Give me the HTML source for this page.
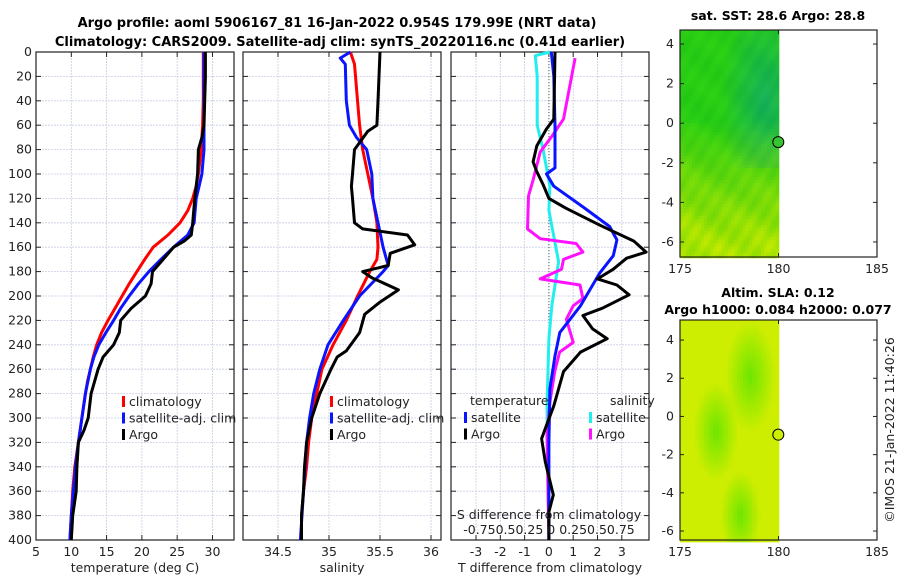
<!DOCTYPE html>
<html><head><meta charset="utf-8">
<style>
body{margin:0;background:#fff;}
svg text{font-family:"DejaVu Sans","Liberation Sans",sans-serif;fill:#222;}
.tk{font-size:12.5px;}
.tt{font-size:12.5px;font-weight:bold;fill:#000;}
.tm{font-size:13px;font-weight:bold;fill:#000;}
</style></head>
<body>
<svg id="c" width="900" height="580" viewBox="0 0 900 580" xmlns="http://www.w3.org/2000/svg">
<text class="tm" x="337" y="27" text-anchor="middle">Argo profile: aoml 5906167_81 16-Jan-2022 0.954S 179.99E (NRT data)</text>
<text class="tm" x="340" y="46" text-anchor="middle">Climatology: CARS2009. Satellite-adj clim: synTS_20220116.nc (0.41d earlier)</text>
<g id="g"></g>
</svg>
<script>
// ---- data ----
const depthTicks=[0,20,40,60,80,100,120,140,160,180,200,220,240,260,280,300,320,340,360,380,400];
const tTicks=[5,10,15,20,25,30];
const sTicks=[34.5,35,35.5,36];
const dTTicks=[-3,-2,-1,0,1,2,3];
const lonTicks=[175,180,185];
const latTicks=[4,2,0,-2,-4,-6];

const tClimDepth=[0,20,40,60,80,100,110,120,130,140,150,160,170,180,190,200,210,220,230,240,250,260,270,280,300,320,340,360,380,400];
const tClimVal=[28.7,28.7,28.7,28.6,28.4,28.0,27.7,27.2,26.5,25.4,23.7,21.6,20.4,19.3,18.2,17.2,16.2,15.2,14.3,13.6,13.1,12.7,12.3,12.0,11.5,11.0,10.5,10.2,10.0,9.8];
const tSatDepth=[0,20,40,60,80,100,110,120,140,150,160,170,180,190,200,210,220,230,240,250,260,280,300,320,340,360,380,400];
const tSatVal=[28.8,28.8,28.8,28.8,28.8,28.5,28.1,27.7,27.4,26.5,24.5,22.7,21.0,19.5,18.2,17.0,16.0,14.9,13.9,13.2,12.7,12.0,11.5,11.0,10.6,10.3,10.0,9.8];
const tArgoDepth=[0,20,40,60,70,80,100,120,140,150,155,160,170,180,190,200,210,220,230,240,250,260,280,300,310,320,340,360,380,400];
const tArgoVal=[29.0,29.0,28.9,28.8,28.5,28.0,27.9,27.5,27.2,27.0,26.0,24.5,23.0,21.5,21.3,20.5,18.5,17.0,16.8,16.0,14.5,13.8,12.8,12.4,11.8,11.0,10.8,10.7,10.2,10.0];

const sClimDepth=[0,10,20,60,80,100,120,140,160,170,180,200,220,240,260,280,300,320,340,360,380,400];
const sClimVal=[35.21,35.25,35.26,35.30,35.33,35.38,35.43,35.47,35.48,35.47,35.40,35.28,35.17,35.04,34.93,34.88,34.83,34.80,34.78,34.75,34.73,34.73];
const sSatDepth=[0,5,10,40,60,70,80,100,120,140,160,175,180,200,220,240,260,280,300,320,360,400];
const sSatVal=[35.21,35.11,35.16,35.17,35.20,35.27,35.37,35.42,35.43,35.48,35.53,35.58,35.53,35.30,35.14,34.99,34.91,34.85,34.81,34.78,34.75,34.72];
const sArgoDepth=[0,40,60,65,80,100,110,120,140,145,150,158,165,175,180,185,195,205,215,230,245,250,260,280,300,320,340,360,380,400];
const sArgoVal=[35.50,35.48,35.47,35.38,35.25,35.23,35.22,35.23,35.25,35.33,35.77,35.84,35.60,35.58,35.33,35.42,35.68,35.50,35.35,35.30,35.17,35.08,35.02,34.91,34.83,34.78,34.76,34.75,34.73,34.73];

const dTSatDepth=[0,20,60,80,95,100,110,127,143,154,167,181,208,230,249,276,320,400];
const dTSatVal=[0.1,0.2,0.25,0.25,0.25,-0.1,0.2,1.4,2.5,2.8,2.65,2.1,1.3,0.45,0.25,0.04,0.0,0.0];
const dTArgoDepth=[0,55,63,77,90,98,109,120,128,142,155,164,169,178,186,191,199,210,216,227,235,246,262,290,306,317,336,363,377,400];
const dTArgoVal=[0.25,0.2,-0.1,-0.5,-0.65,-0.5,-0.23,0.0,0.7,2.1,3.5,4.0,3.2,2.65,2.0,2.8,3.3,2.2,1.4,1.8,2.4,1.3,0.6,0.2,-0.1,-0.3,-0.15,0.18,0.0,0.0];
const dSSatDepth=[0,3,20,60,80,110,130,155,172,208,235,290,400];
const dSSatVal=[0.01,-0.14,-0.12,-0.12,-0.06,0.01,0.0,0.06,0.1,0.03,0.0,-0.02,0.0];
const dSArgoDepth=[5,55,68,82,104,118,145,153,157,164,170,178,186,191,202,208,219,238,246,262,287,314,400];
const dSArgoVal=[0.27,0.15,0.04,-0.09,-0.16,-0.21,-0.22,-0.09,0.28,0.35,0.15,0.13,-0.09,0.32,0.35,0.25,0.18,0.25,0.11,0.06,0.01,-0.02,0.0];

// ---- drawing ----
const NS="http://www.w3.org/2000/svg";
const G=document.getElementById('g');
function el(tag,attrs,parent){const e=document.createElementNS(NS,tag);for(const k in attrs)e.setAttribute(k,attrs[k]);(parent||G).appendChild(e);return e;}
function txt(x,y,s,cls,anchor,parent){const t=el('text',{x:x,y:y,class:cls||'tk','text-anchor':anchor||'middle'},parent);t.textContent=s;return t;}

const Y0=52,Y1=540;
const yD=d=>Y0+(d/400)*(Y1-Y0);
function mkX(x0,x1,v0,v1){return v=>x0+(v-v0)/(v1-v0)*(x1-x0);}

const panels=[
 {name:'temperature-panel',x0:36,x1:234,v0:5,v1:33.05,ticks:tTicks,xlabel:'temperature (deg C)'},
 {name:'salinity-panel',x0:243,x1:441,v0:34.157,v1:36.098,ticks:sTicks,xlabel:'salinity'},
 {name:'difference-panel',x0:451,x1:649,v0:-4.03,v1:4.12,ticks:dTTicks,xlabel:'T difference from climatology'}
];
panels.forEach((p,i)=>{
  const g=el('g',{});
  
  
  p.g=g;p.X=mkX(p.x0,p.x1,p.v0,p.v1);
  depthTicks.forEach(d=>{if(d>0&&d<400)el('line',{x1:p.x0,x2:p.x1,y1:yD(d),y2:yD(d),stroke:'#c8cde6','stroke-width':0.8,'stroke-dasharray':'2,1'},g);});
  p.ticks.forEach(v=>{const x=p.X(v);el('line',{x1:x,x2:x,y1:Y0,y2:Y1,stroke:'#c8cde6','stroke-width':0.8,'stroke-dasharray':'2,1'},g);
    el('line',{x1:x,x2:x,y1:Y1,y2:Y1-5,stroke:'#222'},g);el('line',{x1:x,x2:x,y1:Y0,y2:Y0+5,stroke:'#222'},g);
    txt(x,Y1+16,String(v),'tk','middle',g);});
  depthTicks.forEach(d=>{el('line',{x1:p.x0,x2:p.x0+5,y1:yD(d),y2:yD(d),stroke:'#222'},g);el('line',{x1:p.x1,x2:p.x1-5,y1:yD(d),y2:yD(d),stroke:'#222'},g);
    if(i===0)txt(p.x0-4,yD(d)+4,String(d),'tk','end',g);});
  el('rect',{x:p.x0,y:Y0,width:p.x1-p.x0,height:Y1-Y0,fill:'none',stroke:'#222','stroke-width':1.2},g);
  const xl=txt((p.x0+p.x1)/2,Y1+32,p.xlabel,'tk','middle',g);
  
  
});
function line(p,depths,vals,color,name,scale){
  const pts=depths.map((d,k)=>p.X(vals[k]*(scale||1)).toFixed(1)+','+yD(d).toFixed(1)).join(' ');
  const l=el('polyline',{points:pts,fill:'none',stroke:color,'stroke-width':3,'stroke-linejoin':'round'},p.g);
  
  
}
const [P1,P2,P3]=panels;
el('line',{x1:P3.X(0),x2:P3.X(0),y1:Y0,y2:Y1,stroke:'#555','stroke-width':1,'stroke-dasharray':'1,2'},P3.g);
line(P1,tClimDepth,tClimVal,'#ff0000','temp-climatology-line');
line(P1,tSatDepth,tSatVal,'#0a14ff','temp-satellite-line');
line(P1,tArgoDepth,tArgoVal,'#000','temp-argo-line');
line(P2,sClimDepth,sClimVal,'#ff0000','sal-climatology-line');
line(P2,sSatDepth,sSatVal,'#0a14ff','sal-satellite-line');
line(P2,sArgoDepth,sArgoVal,'#000','sal-argo-line');
line(P3,dSSatDepth,dSSatVal,'#22eeee','sdiff-satellite-line',4);
line(P3,dSArgoDepth,dSArgoVal,'#ff11ff','sdiff-argo-line',4);
line(P3,dTSatDepth,dTSatVal,'#0a14ff','tdiff-satellite-line');
line(P3,dTArgoDepth,dTArgoVal,'#000','tdiff-argo-line');
const st1=txt(549,519,'S difference from climatology','tk','middle',P3.g);

txt(549,534,'-0.750.50.25 0  0.250.50.75','tk','middle',P3.g);

function legend(x,y,items,name){
  const g=el('g',{});
  
  
  items.forEach((it,k)=>{const yy=y+k*16.5;
    el('rect',{x:x,y:yy-9,width:3,height:11,fill:it[1]},g);
    txt(x+7,yy+1,it[0],'tk','start',g);});
}
legend(122,405,[['climatology','#ff0000'],['satellite-adj. clim','#0a14ff'],['Argo','#000']],'temperature-legend');
legend(330,405,[['climatology','#ff0000'],['satellite-adj. clim','#0a14ff'],['Argo','#000']],'salinity-legend');
txt(470,405,'temperature','tk','start');
txt(610,405,'salinity','tk','start');
legend(464,421,[['satellite','#0a14ff'],['Argo','#000']],'tdiff-legend');
legend(589,421,[['satellite','#22eeee'],['Argo','#ff11ff']],'sdiff-legend');

// ---- maps ----
function map(name,x0,x1,y0,y1,lat0,lat1,colorFn){
  const g=el('g',{});
  
  
  const X=mkX(x0,x1,175,185),Y=v=>y0+(lat0-v)/(lat0-lat1)*(y1-y0);
  const xe=X(180),cs=3;
  for(let yy=y0;yy<y1;yy+=cs)for(let xx=x0;xx<xe;xx+=cs){
    const u=(xx-x0)/(xe-x0),v=(yy-y0)/(y1-y0);
    el('rect',{x:xx,y:yy,width:cs+0.3,height:cs+0.3,fill:colorFn(u,v)},g);}
  el('rect',{x:x0,y:y0,width:x1-x0,height:y1-y0,fill:'none',stroke:'#222','stroke-width':1.2},g);
  lonTicks.forEach(l=>{const x=X(l);el('line',{x1:x,x2:x,y1:y1,y2:y1-4,stroke:'#222'},g);el('line',{x1:x,x2:x,y1:y0,y2:y0+4,stroke:'#222'},g);txt(x,y1+16,String(l),'tk','middle',g);});
  latTicks.forEach(l=>{const y=Y(l);el('line',{x1:x0,x2:x0+4,y1:y,y2:y,stroke:'#222'},g);el('line',{x1:x1,x2:x1-4,y1:y,y2:y,stroke:'#222'},g);txt(x0-6,y+4,String(l),'tk','end',g);});
  const c=el('circle',{cx:X(179.99),cy:Y(-0.954),r:5.5,fill:colorFn(1,(lat0+0.954)/(lat0-lat1)),stroke:'#000','stroke-width':1},g);
  
  
}
function sstColor(u,v){
  const n=Math.sin(u*37+v*53)*0.5+Math.sin(u*11-v*29)*0.5;
  const d=Math.max(0,1-Math.hypot(u-0.85,v-0.3)*2.2)*(v<0.6?1:0);
  const t=Math.min(1,Math.max(0,(v-0.4)/0.55)+Math.max(0,(0.3-u))*0.3*(v>0.4?1:0));
  const r=40-20*d+130*t+n*(6+20*t);
  const gg=205-30*d+23*t+n*6;
  const b=20+70*d-20*t;
  return `rgb(${r|0},${gg|0},${Math.max(0,b)|0})`;
}
function slaColor(u,v){
  const blob=Math.max(0,1-Math.hypot(u-0.7,v-0.25)*4)+Math.max(0,1-Math.hypot(u-0.35,v-0.5)*4.5)+Math.max(0,1-Math.hypot(u-0.6,v-0.88)*5);
  const k=Math.min(1,blob);
  const r=205-95*k,gg=238-8*k;
  return `rgb(${r|0},${gg|0},0)`;
}
map('sst-map',680,877,30,257,4.71,-6.76,sstColor);
map('sla-map',680,877,320,540,5.05,-6.47,slaColor);
const t1=txt(778,20,'sat. SST: 28.6 Argo: 28.8','tt','middle');

const t2=txt(778,297,'Altim. SLA: 0.12','tt','middle');

txt(778,314,'Argo h1000: 0.084 h2000: 0.077','tt','middle');
const cr=txt(0,0,'©IMOS 21-Jan-2022 11:40:26','tk','middle');
cr.setAttribute('transform','translate(894,430) rotate(-90)');


</script>
</body></html>
